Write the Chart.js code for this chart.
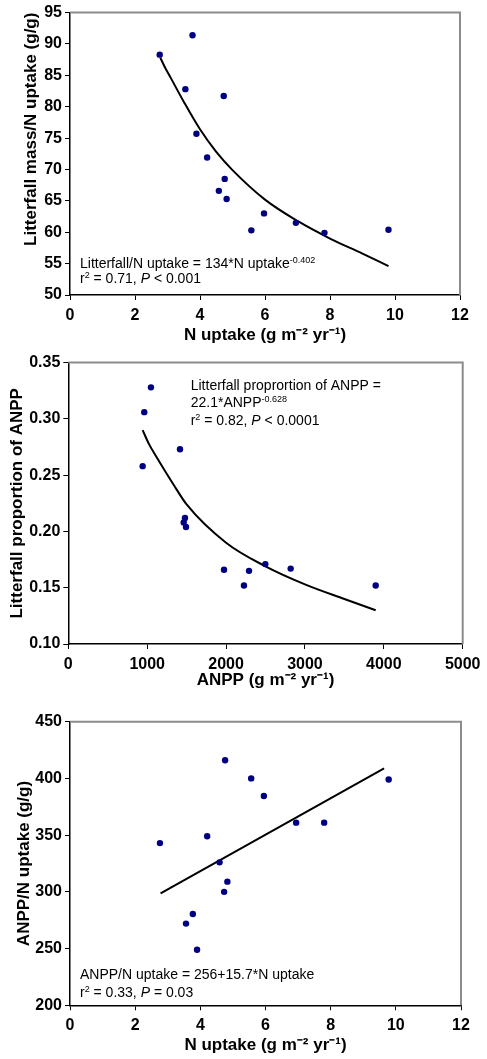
<!DOCTYPE html>
<html>
<head>
<meta charset="utf-8">
<script src="https://cdn.jsdelivr.net/npm/chart.js@4"></script>
<style>
  html, body { margin: 0; padding: 0; background: #fff; }
  body { width: 487px; height: 1059px; position: relative; overflow: hidden; }
  canvas { position: absolute; left: 0; }
</style>
</head>
<body>
<canvas id="chart-litter" width="487" height="350" style="top:0"></canvas>
<canvas id="chart-share" width="487" height="350" style="top:350px"></canvas>
<canvas id="chart-ratio" width="487" height="359" style="top:700px"></canvas>
<script>
// Panel 1: litterfall mass / N uptake against N uptake
const litterNUptake = [2.76, 3.77, 3.55, 4.73, 3.89, 4.22, 4.76, 4.58, 4.82, 5.97, 5.58, 6.95, 7.83, 9.80];
const litterPerN = [88.3, 91.4, 82.8, 81.7, 75.7, 71.9, 68.5, 66.6, 65.3, 63.0, 60.3, 61.5, 59.9, 60.4];
const litterFitX = [2.78, 2.9, 3.1, 3.5, 4, 4.5, 5, 6, 7, 8, 9, 9.8];
const litterFitY = [87.8, 86.5, 84.6, 80.8, 76.4, 72.8, 69.9, 65.2, 61.8, 59.0, 56.6, 54.6];

// Panel 2: litterfall proportion of ANPP against ANPP
const anppValues = [1048, 963, 943, 1416, 1479, 1463, 1492, 1974, 2291, 2227, 2498, 2819, 3897];
const litterShare = [0.328, 0.306, 0.258, 0.273, 0.212, 0.208, 0.204, 0.166, 0.165, 0.152, 0.171, 0.167, 0.152];
const shareFitX = [943, 1020, 1120, 1331, 1500, 2000, 2500, 3000, 3500, 3897];
const shareFitY = [0.290, 0.278, 0.266, 0.242, 0.224, 0.190, 0.169, 0.153, 0.140, 0.130];

// Panel 3: ANPP / N uptake against N uptake
const ratioNUptake = [2.76, 4.76, 5.56, 5.95, 9.78, 6.94, 7.80, 4.21, 4.59, 4.83, 4.73, 3.77, 3.56, 3.90];
const anppPerN = [343, 416, 400, 384.5, 399, 361, 361, 349, 326, 309, 300, 280.5, 272, 249];
const ratioFitX = [2.78, 9.64];
const ratioFitY = [298.7, 408.9];

// Axis labels
const nUptakeTitle = 'N uptake (g m\u207B\u00B2 yr\u207B\u00B9)';
const anppTitle = 'ANPP (g m\u207B\u00B2 yr\u207B\u00B9)';

const FONT = '"Liberation Sans", Arial, sans-serif';
const dotColor = '#000080';

const pairs = (xs, ys) => xs.map((x, i) => ({ x: x, y: ys[i] }));

// Gray frame on top and right of the plot area
const framePlugin = {
    id: 'frame',
    afterDatasetsDraw(chart) {
        const { ctx, chartArea: a } = chart;
        ctx.save();
        ctx.strokeStyle = '#8c8c8c';
        ctx.lineWidth = 2;
        ctx.beginPath();
        ctx.moveTo(a.left, a.top);
        ctx.lineTo(a.right, a.top);
        ctx.lineTo(a.right, a.bottom);
        ctx.stroke();
        ctx.restore();
    }
};

// Equation text with superscripts and italic runs
function notePlugin(note) {
    return {
        id: 'note',
        afterDraw(chart) {
            const ctx = chart.ctx;
            ctx.save();
            ctx.fillStyle = '#000';
            ctx.textBaseline = 'alphabetic';
            note.lines.forEach(line => {
                let x = note.x;
                line.forEach(part => {
                    const size = part.sup ? 9 : 14;
                    ctx.font = (part.italic ? 'italic ' : '') + size + 'px ' + FONT;
                    ctx.fillText(part.text, x, part.y - (part.sup ? 5 : 0));
                    x += ctx.measureText(part.text).width;
                });
            });
            ctx.restore();
        }
    };
}

function line(y, parts) {
    return parts.map(p => (typeof p === 'string' ? { text: p, y: y } : Object.assign({ y: y }, p)));
}

function makePanel(id, cfg) {
    const ctx = document.getElementById(id).getContext('2d');
    const tickFont = { family: FONT, size: 16, weight: 'bold' };
    const titleFont = { family: FONT, size: 17, weight: 'bold' };
    return new Chart(ctx, {
        type: 'scatter',
        data: {
            datasets: [{
                data: pairs(cfg.xs, cfg.ys),
                pointRadius: 3.2,
                pointBackgroundColor: dotColor,
                pointBorderColor: dotColor,
                pointBorderWidth: 0,
                showLine: false
            }, {
                data: pairs(cfg.fitX, cfg.fitY),
                showLine: true,
                borderColor: '#000',
                borderWidth: 2,
                pointRadius: 0,
                tension: cfg.fitX.length > 2 ? 0.4 : 0,
                cubicInterpolationMode: 'monotone'
            }]
        },
        options: {
            responsive: false,
            animation: false,
            layout: { padding: { left: 0, top: cfg.padTop, right: cfg.padRight, bottom: 0 } },
            plugins: { legend: { display: false }, tooltip: { enabled: false } },
            scales: {
                x: {
                    type: 'linear',
                    position: 'bottom',
                    min: cfg.xMin,
                    max: cfg.xMax,
                    ticks: {
                        stepSize: cfg.xStep, color: '#000', font: tickFont, padding: 6,
                        maxRotation: 0, autoSkip: false,
                        callback: v => String(v)
                    },
                    grid: { drawOnChartArea: false, drawTicks: true, tickLength: 5, color: '#000' },
                    border: { color: '#000', width: 1.5 },
                    title: { display: true, text: cfg.xTitle, color: '#000', font: titleFont, padding: { top: 0, bottom: cfg.xTitlePad } },
                    afterFit: s => { s.height = cfg.xHeight; }
                },
                y: {
                    type: 'linear',
                    position: 'left',
                    min: cfg.yMin,
                    max: cfg.yMax,
                    ticks: {
                        stepSize: cfg.yStep, color: '#000', autoSkip: false, padding: 3,
                        font: tickFont,
                        callback: v => v.toFixed(cfg.yDecimals)
                    },
                    grid: { drawOnChartArea: false, drawTicks: true, tickLength: 5, color: '#000' },
                    border: { color: '#000', width: 1.5 },
                    title: { display: true, text: cfg.yTitle, align: cfg.yTitleAlign, color: '#000', font: titleFont, padding: { top: cfg.yTitlePad, bottom: 0 } },
                    afterFit: s => { s.width = cfg.yWidth; }
                }
            }
        },
        plugins: [framePlugin, notePlugin(cfg.note)]
    });
}

makePanel('chart-litter', {
    xs: litterNUptake, ys: litterPerN, fitX: litterFitX, fitY: litterFitY,
    xMin: 0, xMax: 12, xStep: 2, yMin: 50, yMax: 95, yStep: 5, yDecimals: 0,
    xTitle: nUptakeTitle, yTitle: 'Litterfall mass/N uptake (g/g)', yTitleAlign: 'end',
    padTop: 10, padRight: 27, yWidth: 70, xHeight: 55, xTitlePad: 4.6, yTitlePad: 21.6,
    note: {
        x: 80,
        lines: [
            line(267.5, ['Litterfall/N uptake = 134*N uptake', { text: '-0.402', sup: true }]),
            line(283, ['r', { text: '2', sup: true }, ' = 0.71, ', { text: 'P', italic: true }, ' < 0.001'])
        ]
    }
});

makePanel('chart-share', {
    xs: anppValues, ys: litterShare, fitX: shareFitX, fitY: shareFitY,
    xMin: 0, xMax: 5000, xStep: 1000, yMin: 0.1, yMax: 0.35, yStep: 0.05, yDecimals: 2,
    xTitle: anppTitle, yTitle: 'Litterfall proportion of ANPP', yTitleAlign: 'center',
    padTop: 11.7, padRight: 24.3, yWidth: 68.3, xHeight: 56, xTitlePad: 9.6, yTitlePad: 7.6,
    note: {
        x: 190.7,
        lines: [
            line(39.5, ['Litterfall proprortion of ANPP =']),
            line(56.5, ['22.1*ANPP', { text: '-0.628', sup: true }]),
            line(75, ['r', { text: '2', sup: true }, ' = 0.82, ', { text: 'P', italic: true }, ' < 0.0001'])
        ]
    }
});

makePanel('chart-ratio', {
    xs: ratioNUptake, ys: anppPerN, fitX: ratioFitX, fitY: ratioFitY,
    xMin: 0, xMax: 12, xStep: 2, yMin: 200, yMax: 450, yStep: 50, yDecimals: 0,
    xTitle: nUptakeTitle, yTitle: 'ANPP/N uptake (g/g)', yTitleAlign: 'center',
    padTop: 21.7, padRight: 26, yWidth: 70, xHeight: 53.7, xTitlePad: 3.6, yTitlePad: 14.6,
    note: {
        x: 80,
        lines: [
            line(279.3, ['ANPP/N uptake = 256+15.7*N uptake']),
            line(296.5, ['r', { text: '2', sup: true }, ' = 0.33, ', { text: 'P', italic: true }, ' = 0.03'])
        ]
    }
});
</script>
</body>
</html>
